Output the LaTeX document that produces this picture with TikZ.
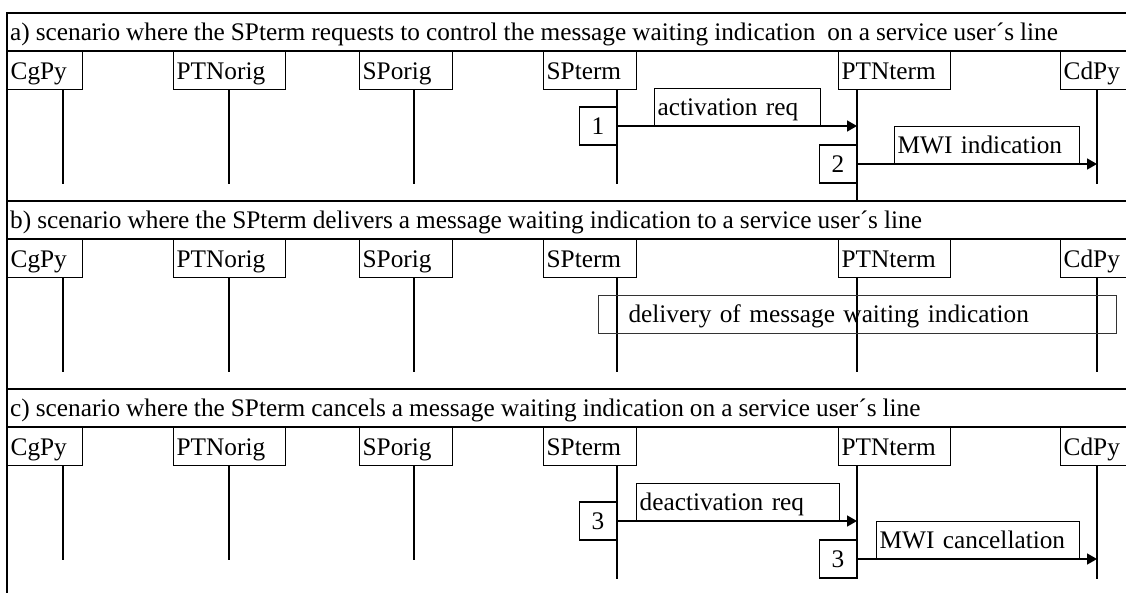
\documentclass[tikz,border=0pt]{standalone}
\usepackage{fontspec}
\setmainfont[WordSpace=0.95]{Liberation Serif}
\usetikzlibrary{arrows.meta}

\begin{document}
\begin{tikzpicture}[x=1pt, y=-1pt,
  every node/.style={font=\fontsize{25.3}{30}\selectfont, text height=16.7pt, text depth=0pt},
  frame/.style={line width=2pt},
  rule/.style={line width=1.3pt},
  hdrbox/.style={draw, line width=1.3pt, minimum height=38pt, inner xsep=3pt, inner ysep=0pt, anchor=north west},
  lifeline/.style={line width=1.3pt},
  numbox/.style={draw, line width=1.3pt, minimum width=37pt, minimum height=38pt, inner sep=0pt, anchor=east},
  msglabel/.style={draw, line width=1.3pt, minimum height=37pt, inner xsep=3pt, inner ysep=0pt, anchor=south west},
  msg/.style={line width=1.6pt, -{Triangle[length=10pt, width=11pt]}},
  title/.style={anchor=west, inner xsep=3pt, inner ysep=0pt}
]
\useasboundingbox (0,0) rectangle (1126,592);
\clip (0,0) rectangle (1126,592);

% frame and section rules
\draw[frame] (7,610) -- (7,13) -- (1140,13);
\draw[frame] (7,201) -- (1140,201);
\draw[frame] (7,389) -- (1140,389);
\foreach \yr in {51, 239, 427}
  \draw[rule] (7,\yr) -- (1140,\yr);

% scenario titles
\node[title] (titleA) at (7,32) {a) scenario where the SPterm requests to control the message waiting indication\ \ on a service user´s line};
\node[title] (titleB) at (7,220) {b) scenario where the SPterm delivers a message waiting indication to a service user´s line};
\node[title] (titleC) at (7,408) {c) scenario where the SPterm cancels a message waiting indication on a service user´s line};

% entity boxes and lifelines
\foreach \s/\yt in {a/13, b/201, c/389} {
  \foreach \nm/\xl/\xr/\xll in {CgPy/7/82/63, PTNorig/173/285/229, SPorig/359/452/414, SPterm/543/636/617, PTNterm/838/950/857, CdPy/1060/1135/1097} {
    \pgfmathsetmacro\w{\xr-\xl-6}
    \node[hdrbox, text width=\w pt] (\s\nm) at (\xl,\yt+38) {\nm};
    \coordinate (\s\nm-top) at (\s\nm.south -| \xll,0);
    \draw[lifeline] (\s\nm-top) -- ++(0,94) coordinate (\s\nm-end);
  }
}
\draw[lifeline] (aPTNterm-end) -- (aPTNterm-end |- 0,201);
\foreach \nm in {SPterm, PTNterm, CdPy}
  \draw[lifeline] (c\nm-end) -- ++(0,19);

% a) activation
\node[numbox] (n1) at (aSPterm-top |- 0,126) {1};
\node[numbox] (n2) at (aPTNterm-top |- 0,164) {2};
\draw[msg] (n1.east) -- (n1.east -| aPTNterm-top);
\draw[msg] (n2.east) -- (n2.east -| aCdPy-top);
\node[msglabel, text width=160pt] (actreq) at (654,126) {activation req};
\node[msglabel, text width=179pt] (mwiind) at (894,164) {MWI indication};

% b) delivery
\node[draw=black!80, line width=1pt, anchor=north west, minimum height=38pt, inner xsep=30pt, inner ysep=0pt, text width=458pt] (deliv) at (598,295) {delivery of message waiting indication};

% c) deactivation
\node[numbox] (n3a) at (cSPterm-top |- 0,521) {3};
\node[numbox] (n3b) at (cPTNterm-top |- 0,559) {3};
\draw[msg] (n3a.east) -- (n3a.east -| cPTNterm-top);
\draw[msg] (n3b.east) -- (n3b.east -| cCdPy-top);
\node[msglabel, text width=197pt] (deactreq) at (636,521) {deactivation req};
\node[msglabel, text width=197pt] (mwicanc) at (876,559) {MWI cancellation};
\end{tikzpicture}
\end{document}
